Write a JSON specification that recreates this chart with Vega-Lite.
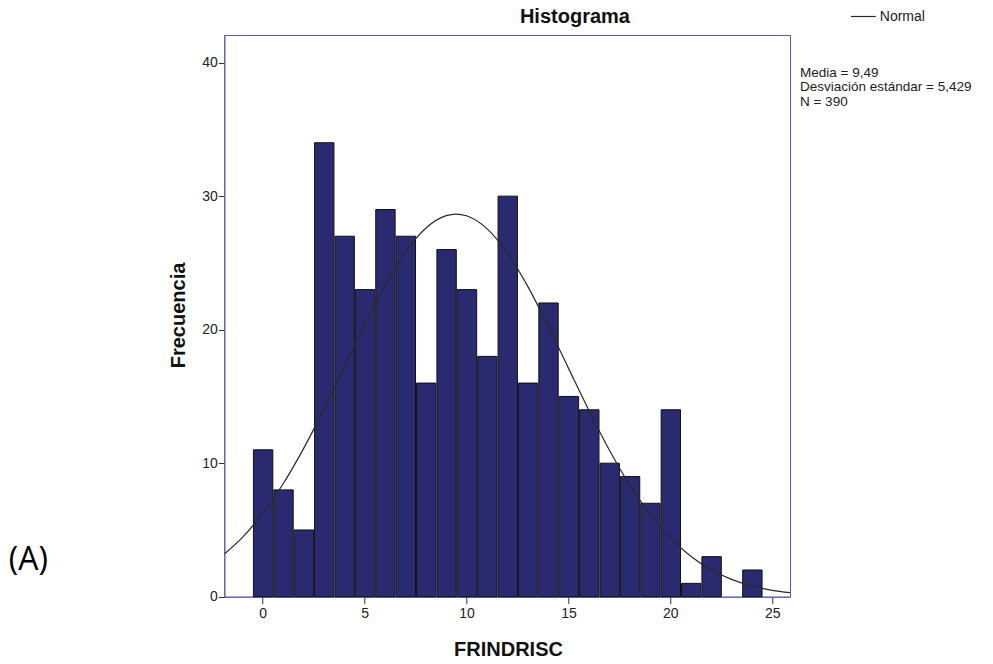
{
  "$schema": "https://vega.github.io/schema/vega-lite/v6.json",
  "autosize": {"type": "none"},
  "width": 565.7,
  "height": 561.7,
  "padding": {"left": 224.3, "top": 35, "right": 203, "bottom": 67.3},
  "background": "white",
  "config": {
    "view": {"stroke": "#5a5aa5", "strokeWidth": 1},
    "axis": {
      "grid": false,
      "domainColor": "#5a5aa5",
      "tickColor": "#333",
      "labelFont": "Liberation Sans",
      "labelFontSize": 14,
      "labelColor": "#222",
      "titleFont": "Liberation Sans",
      "titleFontSize": 20,
      "titleFontWeight": "bold",
      "titleColor": "#111"
    },
    "legend": {
      "orient": "none",
      "legendX": 625.5,
      "legendY": -32,
      "padding": 0,
      "labelFont": "Liberation Sans",
      "labelFontSize": 14,
      "labelColor": "#222",
      "symbolType": "stroke",
      "symbolSize": 625,
      "symbolStrokeWidth": 1.2,
      "labelOffset": 3
    }
  },
  "datasets": {
    "bins": [
      {"bin_start": -0.5, "bin_end": 0.5, "count": 11},
      {"bin_start": 0.5, "bin_end": 1.5, "count": 8},
      {"bin_start": 1.5, "bin_end": 2.5, "count": 5},
      {"bin_start": 2.5, "bin_end": 3.5, "count": 34},
      {"bin_start": 3.5, "bin_end": 4.5, "count": 27},
      {"bin_start": 4.5, "bin_end": 5.5, "count": 23},
      {"bin_start": 5.5, "bin_end": 6.5, "count": 29},
      {"bin_start": 6.5, "bin_end": 7.5, "count": 27},
      {"bin_start": 7.5, "bin_end": 8.5, "count": 16},
      {"bin_start": 8.5, "bin_end": 9.5, "count": 26},
      {"bin_start": 9.5, "bin_end": 10.5, "count": 23},
      {"bin_start": 10.5, "bin_end": 11.5, "count": 18},
      {"bin_start": 11.5, "bin_end": 12.5, "count": 30},
      {"bin_start": 12.5, "bin_end": 13.5, "count": 16},
      {"bin_start": 13.5, "bin_end": 14.5, "count": 22},
      {"bin_start": 14.5, "bin_end": 15.5, "count": 15},
      {"bin_start": 15.5, "bin_end": 16.5, "count": 14},
      {"bin_start": 16.5, "bin_end": 17.5, "count": 10},
      {"bin_start": 17.5, "bin_end": 18.5, "count": 9},
      {"bin_start": 18.5, "bin_end": 19.5, "count": 7},
      {"bin_start": 19.5, "bin_end": 20.5, "count": 14},
      {"bin_start": 20.5, "bin_end": 21.5, "count": 1},
      {"bin_start": 21.5, "bin_end": 22.5, "count": 3},
      {"bin_start": 23.5, "bin_end": 24.5, "count": 2}
    ],
    "curve": [
      {"x": -1.88, "y": 3.2},
      {"x": -1, "y": 4.43},
      {"x": 0, "y": 6.22},
      {"x": 1, "y": 8.44},
      {"x": 2, "y": 11.07},
      {"x": 3, "y": 14.03},
      {"x": 4, "y": 17.19},
      {"x": 5, "y": 20.36},
      {"x": 6, "y": 23.31},
      {"x": 7, "y": 25.8},
      {"x": 8, "y": 27.6},
      {"x": 9, "y": 28.54},
      {"x": 9.49, "y": 28.66},
      {"x": 10, "y": 28.53},
      {"x": 11, "y": 27.57},
      {"x": 12, "y": 25.75},
      {"x": 13, "y": 23.26},
      {"x": 14, "y": 20.29},
      {"x": 15, "y": 17.12},
      {"x": 16, "y": 13.97},
      {"x": 17, "y": 11.01},
      {"x": 18, "y": 8.39},
      {"x": 19, "y": 6.18},
      {"x": 20, "y": 4.4},
      {"x": 21, "y": 3.03},
      {"x": 22, "y": 2.02},
      {"x": 23, "y": 1.3},
      {"x": 24, "y": 0.81},
      {"x": 25, "y": 0.48},
      {"x": 25.87, "y": 0.3}
    ]
  },
  "layer": [
    {
      "data": {"name": "bins"},
      "mark": {"type": "bar", "fill": "#2a2a70", "stroke": "#111", "strokeWidth": 1},
      "encoding": {
        "x": {
          "field": "bin_start",
          "type": "quantitative",
          "bin": "binned",
          "scale": {"domain": [-1.88, 25.87], "nice": false, "zero": false},
          "axis": {
            "values": [0, 5, 10, 15, 20, 25],
            "title": "FRINDRISC",
            "tickSize": 7,
            "labelPadding": 3,
            "titleX": 283.7,
            "titleY": 52.3,
            "titleBaseline": "middle",
            "titleAlign": "center"
          }
        },
        "x2": {"field": "bin_end"},
        "y": {
          "field": "count",
          "type": "quantitative",
          "scale": {"domain": [0, 42.07], "nice": false},
          "axis": {
            "values": [0, 10, 20, 30, 40],
            "title": "Frecuencia",
            "tickSize": 6,
            "labelPadding": 1,
            "titleX": -46,
            "titleY": 280,
            "titleAngle": -90,
            "titleBaseline": "middle",
            "titleAlign": "center"
          }
        }
      }
    },
    {
      "data": {"name": "curve"},
      "mark": {"type": "line", "interpolate": "monotone", "strokeWidth": 1.2, "clip": true},
      "encoding": {
        "x": {"field": "x", "type": "quantitative"},
        "y": {"field": "y", "type": "quantitative"},
        "stroke": {
          "datum": "Normal",
          "type": "nominal",
          "scale": {"range": ["#2a2a2a"]},
          "legend": {"title": null}
        }
      }
    },
    {
      "data": {"values": [{"label": "Histograma"}]},
      "mark": {
        "type": "text",
        "font": "Liberation Sans",
        "fontSize": 20,
        "fontWeight": "bold",
        "align": "center",
        "baseline": "middle",
        "color": "#111"
      },
      "encoding": {
        "text": {"field": "label"},
        "x": {"datum": 15.32},
        "y": {"datum": 43.42}
      }
    },
    {
      "data": {"values": [{"label": "stats"}]},
      "mark": {
        "type": "text",
        "text": ["Media = 9,49", "Desviación estándar = 5,429", "N = 390"],
        "font": "Liberation Sans",
        "fontSize": 13.5,
        "lineHeight": 14.3,
        "align": "left",
        "baseline": "top",
        "color": "#222"
      },
      "encoding": {
        "x": {"datum": 26.36},
        "y": {"datum": 39.75}
      }
    },
    {
      "data": {"values": [{"label": "(A)"}]},
      "mark": {
        "type": "text",
        "font": "Open Sans",
        "fontSize": 32,
        "align": "left",
        "baseline": "middle",
        "color": "#000"
      },
      "encoding": {
        "text": {"field": "label"},
        "x": {"datum": -12.45},
        "y": {"datum": 2.75}
      }
    }
  ]
}
